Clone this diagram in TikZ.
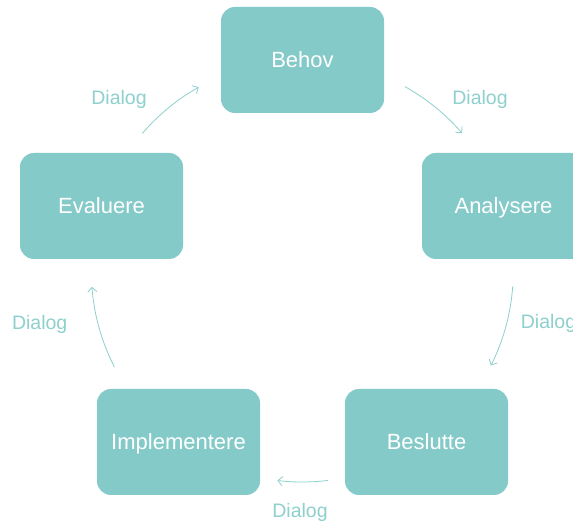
\documentclass[tikz,border=0pt]{standalone}
\usepackage{fontspec}
\setmainfont{Liberation Sans}
\usetikzlibrary{arrows.meta}
\definecolor{boxteal}{HTML}{84CAC8}
\definecolor{lineteal}{HTML}{8DD0CD}
\tikzset{
  stepbox/.style={fill=boxteal, draw=none, rounded corners=14pt,
    minimum width=163pt, minimum height=106pt, inner sep=0pt,
    text height=16pt, text depth=0pt,
    text=white, font=\fontsize{22pt}{26pt}\selectfont},
  dlg/.style={text=lineteal, inner sep=0pt, font=\fontsize{19.5pt}{23pt}\selectfont},
  cyc/.style={draw=lineteal, line width=0.8pt, -{Straight Barb[length=4.5pt,width=9pt,line width=0.8pt]}}
}
\begin{document}
\begin{tikzpicture}[x=1pt,y=1pt]
\clip (0,0) rectangle (573,524);
\fill[white] (0,0) rectangle (573,524);
\coordinate (ctr) at (302.3,253);
\node[stepbox] (behov) at (302.5,464) {Behov};
\node[stepbox] (analysere) at (503.5,318) {Analysere};
\node[stepbox] (beslutte) at (426.5,82) {Beslutte};
\node[stepbox] (impl) at (178.5,82) {Implementere};
\node[stepbox] (evaluere) at (101.5,318) {Evaluere};
\coordinate (a1) at ([shift={(139.3:211pt)}]ctr);
\coordinate (a2) at ([shift={(60.9:211pt)}]ctr);
\coordinate (a3) at ([shift={(-4.2:211pt)}]ctr);
\coordinate (a4) at ([shift={(-83.0:211pt)}]ctr);
\coordinate (a5) at ([shift={(207.1:211pt)}]ctr);
\draw[cyc] (a1) arc[start angle=139.3, end angle=119.4, radius=211pt];
\draw[cyc] (a2) arc[start angle=60.9, end angle=40.8, radius=211pt];
\draw[cyc] (a3) arc[start angle=-4.2, end angle=-26.6, radius=211pt];
\draw[cyc] (a4) arc[start angle=-83.0, end angle=-96.8, radius=211pt];
\draw[cyc] (a5) arc[start angle=207.1, end angle=184.3, radius=211pt];
\node[dlg] (d1) at (119,425) {Dialog};
\node[dlg] (d2) at (480,425) {Dialog};
\node[dlg] (d3) at (548.5,200.5) {Dialog};
\node[dlg] (d4) at (300,12) {Dialog};
\node[dlg] (d5) at (39.7,200) {Dialog};
\end{tikzpicture}
\end{document}
